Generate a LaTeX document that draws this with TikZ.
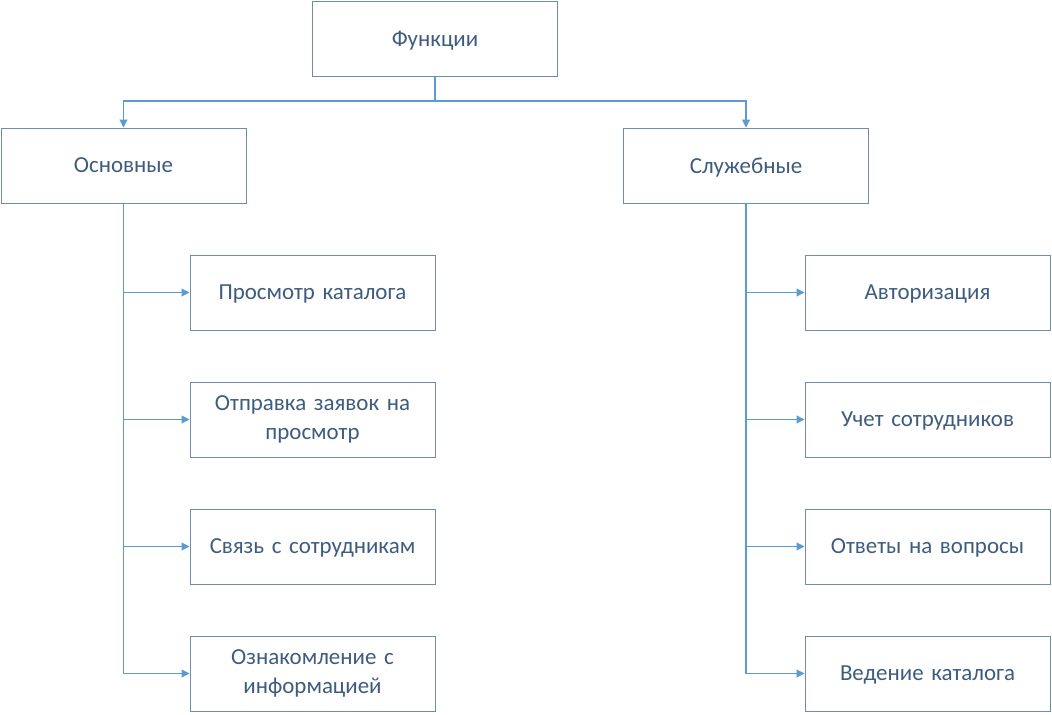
\documentclass[tikz,border=0pt]{standalone}
\usepackage{fontspec}
\setmainfont{Carlito}
\usetikzlibrary{arrows.meta}
\definecolor{boxline}{RGB}{112,140,168}
\definecolor{txt}{RGB}{62,92,126}
\definecolor{conn}{RGB}{91,155,213}
\begin{document}
\begin{tikzpicture}[x=0.75pt,y=-0.75pt,
  box/.style={draw=boxline,line width=0.75pt,fill=white,minimum width=183.75pt,minimum height=56.25pt,
    inner sep=2pt,align=center,text width=175pt,text=txt,font=\fontsize{17.2}{21.5}\selectfont},
  one/.style={box,text depth=0pt},
  conn/.style={draw=conn,line width=0.8pt},
  arr/.style={conn,-{Triangle[length=6pt,width=6pt]}}]
\useasboundingbox (0,0) rectangle (1052,714);
\node[one] (f) at (435,38.5) {Функции};
\node[one] (o) at (123.5,165.5) {Основные};
\node[one] (s) at (746,165.5) {Служебные};
\node[one] (l1) at (312.5,292.5) {Просмотр каталога};
\node[box] (l2) at (312.5,419.5) {Отправка заявок на\\просмотр};
\node[one] (l3) at (312.5,546.5) {Связь с сотрудникам};
\node[box] (l4) at (312.5,673.5) {Ознакомление с\\информацией};
\node[one] (r1) at (927.5,292.5) {Авторизация};
\node[one] (r2) at (927.5,419.5) {Учет сотрудников};
\node[one] (r3) at (927.5,546.5) {Ответы на вопросы};
\node[one] (r4) at (927.5,673.5) {Ведение каталога};
\coordinate (j) at (435,101);
\draw[conn] (f.south) -- (j);
\draw[arr] (j) -| (o.north);
\draw[arr] (j) -| (s.north);
\foreach \c in {l1,l2,l3,l4}{\draw[arr] (o.south) |- (\c.west);}
\foreach \c in {r1,r2,r3,r4}{\draw[arr] (s.south) |- (\c.west);}
\end{tikzpicture}
\end{document}
